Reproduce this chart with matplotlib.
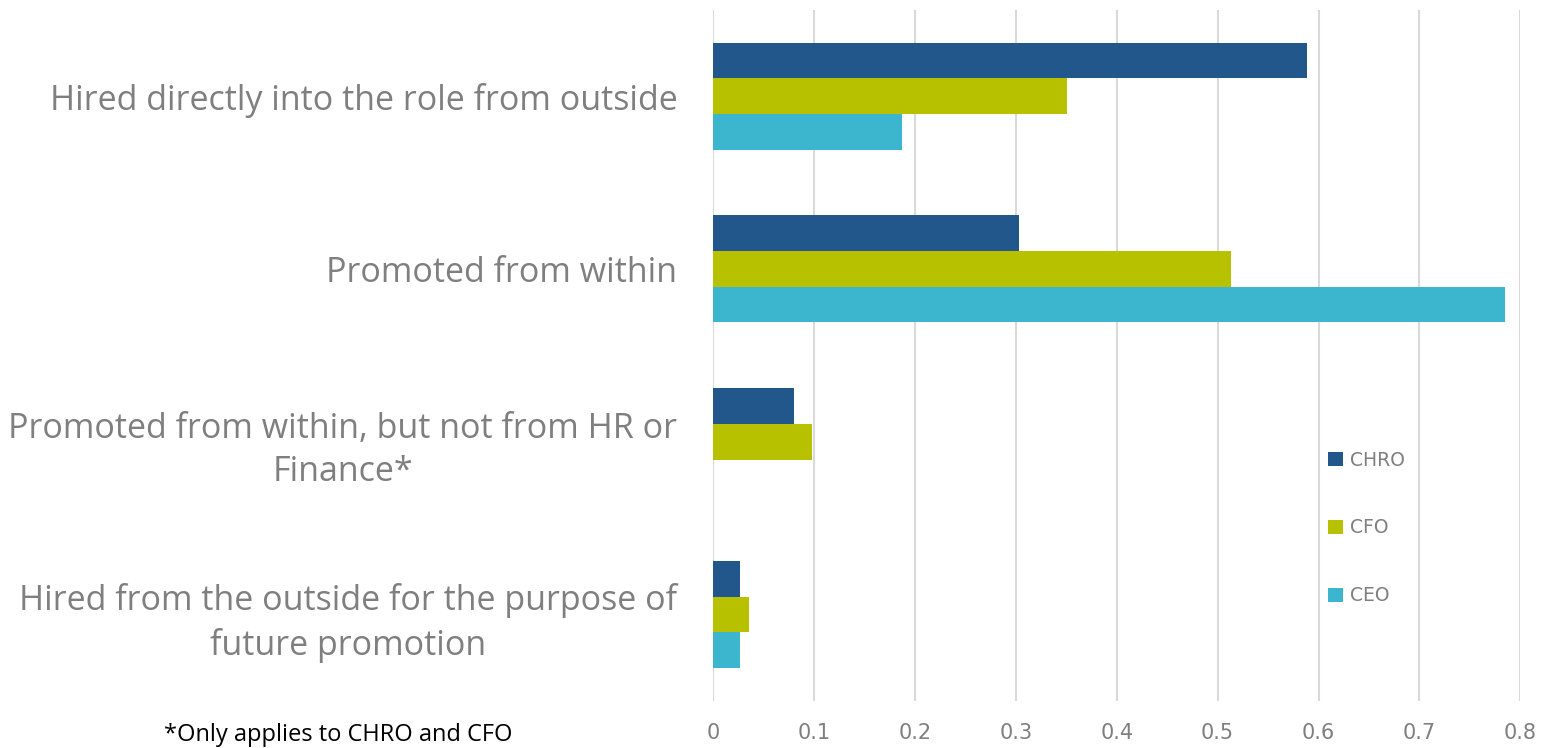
import matplotlib.pyplot as plt
import numpy as np

categories = ['Hired directly into the role from outside',
              'Promoted from within',
              'Promoted from within, but not from HR or\nFinance*',
              'Hired from the outside for the purpose of\nfuture promotion']
chro = [0.589, 0.303, 0.080, 0.026]
cfo = [0.351, 0.513, 0.098, 0.035]
ceo = [0.187, 0.785, 0, 0.026]

colors = ['#22578b', '#b7c100', '#3bb6ce']
gray = '#7f7f7f'

fig = plt.figure(figsize=(15.46, 7.48), dpi=100)
ax = fig.add_axes([0.4615, 0.063, 0.5218, 0.924])

y = np.arange(len(categories))
h = 0.2065
ax.barh(y - h, chro, height=h, color=colors[0], label='CHRO')
ax.barh(y, cfo, height=h, color=colors[1], label='CFO')
ax.barh(y + h, ceo, height=h, color=colors[2], label='CEO')

ax.set_ylim(3.5, -0.5)
ax.set_xlim(0, 0.8)
ax.set_xticks(np.arange(0, 0.81, 0.1))
ax.set_xticklabels(['0', '0.1', '0.2', '0.3', '0.4', '0.5', '0.6', '0.7', '0.8'])
ax.set_yticks(y)
ax.set_yticklabels(categories, fontsize=24.5, color=gray, family='Open Sans',
                   multialignment='center', linespacing=1.35)
ax.tick_params(axis='y', length=0, pad=26)
ax.tick_params(axis='x', length=0, pad=16, labelsize=15, labelcolor=gray)
for s in ax.spines.values():
    s.set_visible(False)
ax.grid(axis='x', color='#d9d9d9', linewidth=1.5)
ax.set_axisbelow(True)

fig.legend(loc='upper left', bbox_to_anchor=(0.848, 0.42), frameon=False,
           fontsize=13.5, labelcolor=gray, handlelength=0.8, handleheight=0.8,
           handletextpad=0.4, labelspacing=2.6)

fig.text(0.219, 0.017, '*Only applies to CHRO and CFO', fontsize=17,
         ha='center', va='center', family='Open Sans')

plt.savefig('out.png', dpi=100)
